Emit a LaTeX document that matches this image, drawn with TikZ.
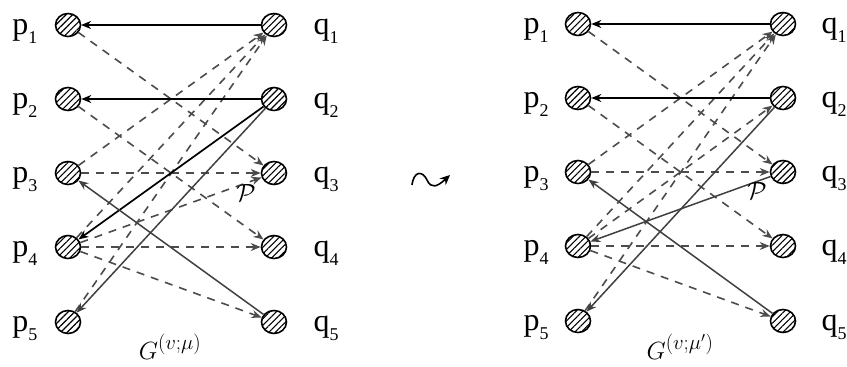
\documentclass[tikz,border=0pt]{standalone}
\usepackage{fontspec}
\setmainfont{Liberation Serif}
\newfontfamily\labfont{Liberation Serif}
\usetikzlibrary{arrows.meta,patterns.meta,shapes.geometric}
\newcommand\mysb[1]{\raisebox{-9pt}{\fontsize{18}{18}\selectfont #1}}
\begin{document}
\begin{tikzpicture}[x=1pt,y=-1pt,
  vtx/.style={ellipse,draw,line width=1.6pt,minimum width=25pt,minimum height=23pt,inner sep=0pt,
    pattern={Lines[angle=45,distance=4.6pt,line width=1.1pt]}},
  lab/.style={font=\labfont\fontsize{32}{32}\selectfont,anchor=base,inner sep=0pt},
  tip/.style={-{Stealth[length=10pt,width=8pt]}},
  blk/.style={tip,line width=1.7pt,black},
  gry/.style={tip,line width=1.5pt,color=black!75},
  dsh/.style={tip,line width=1.6pt,color=black!70,dash pattern=on 8pt off 7pt}]
\useasboundingbox (0,0) rectangle (847,367);
% left graph
\foreach \i/\y in {1/25,2/99,3/173,4/247,5/322}{
  \node[vtx] (p\i) at (68,\y) {};
  \node[vtx] (q\i) at (274,\y) {};
  \node[lab] (lp\i) at (25,\y+9) {p\mysb{\i}};
  \node[lab] (lq\i) at (326,\y+9) {q\mysb{\i}};
}
\draw[dsh] (p1) -- (q3);
\draw[dsh] (p2) -- (q4);
\draw[dsh] (p3) -- (q1);
\draw[dsh] (p4) -- (q1);
\draw[dsh] (p5) -- (q1);
\draw[dsh] (p3) -- (q3);
\draw[dsh] (p4) -- (q4);
\draw[dsh] (p4) -- (q5);
\draw[dsh] (p4) -- (q3);
\draw[blk] (q1) -- (p1);
\draw[blk] (q2) -- (p2);
\draw[blk] (q2) -- (p4);
\draw[gry] (q2) -- (p5);
\draw[gry] (q5) -- (p3);
\node[font=\fontsize{26}{26}\selectfont] (pl) at (246,193) {$\mathcal{P}$};
\node[font=\fontsize{30}{30}\selectfont,anchor=base] (gl) at (170,359) {$G^{(v;\mu)}$};
% squiggle
\coordinate (s0) at (412,185);
\coordinate (s1) at (450,175);
\draw[line width=1.6pt,-{Stealth[length=10pt,width=9pt]}] (s0) .. controls (414,170) and (423,171) .. (427,180)
  .. controls (431,189) and (437,187) .. (s1);
% right graph
\foreach \i/\y in {1/24,2/98,3/172,4/246,5/321}{
  \node[vtx] (rp\i) at (578,\y) {};
  \node[vtx] (rq\i) at (783,\y) {};
  \node[lab] (rlp\i) at (536,\y+9) {p\mysb{\i}};
  \node[lab] (rlq\i) at (834,\y+9) {q\mysb{\i}};
}
\draw[dsh] (rp1) -- (rq3);
\draw[dsh] (rp2) -- (rq4);
\draw[dsh] (rp3) -- (rq1);
\draw[dsh] (rp4) -- (rq1);
\draw[dsh] (rp5) -- (rq1);
\draw[dsh] (rp3) -- (rq3);
\draw[dsh] (rp4) -- (rq4);
\draw[dsh] (rp4) -- (rq5);
\draw[dsh] (rp4) -- (rq2);
\draw[blk] (rq1) -- (rp1);
\draw[blk] (rq2) -- (rp2);
\draw[gry] (rq5) -- (rp3);
\draw[gry] (rq3) -- (rp4);
\draw[gry] (rq2) -- (rp5);
\node[font=\fontsize{26}{26}\selectfont] (rpl) at (757,191) {$\mathcal{P}$};
\node[font=\fontsize{30}{30}\selectfont,anchor=base] (rgl) at (680,359) {$G^{(v;\mu')}$};
\end{tikzpicture}
\end{document}
